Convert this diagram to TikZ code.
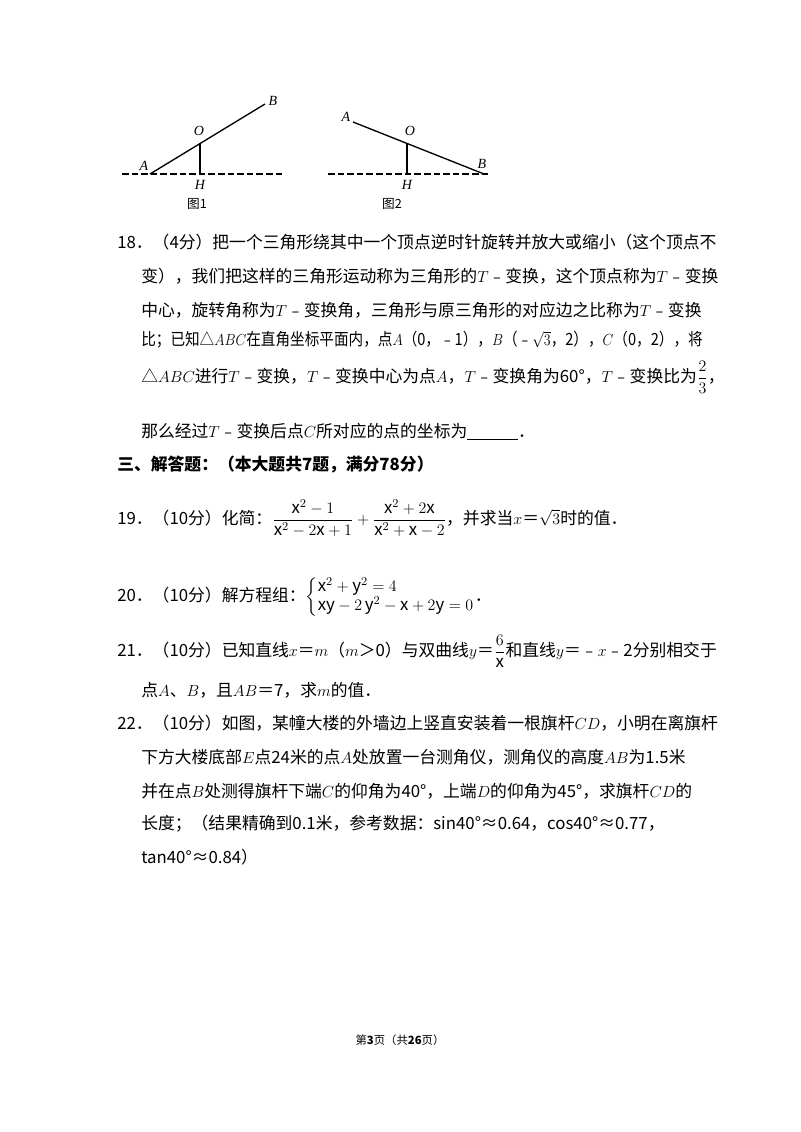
\documentclass[tikz,border=0pt]{standalone}
\usepackage{amsmath}
\usepackage{graphicx}
\usepackage{fontspec}
\setmainfont{Noto Sans CJK SC}
\newfontfamily\latinserif{Liberation Serif}
\usetikzlibrary{positioning}
\tikzset{
  line/.style={anchor=west,inner sep=0pt,font=\fontsize{12.6}{14}\selectfont},
  lbl/.style={inner sep=0pt,font=\fontsize{10.5}{12}\selectfont\itshape\latinserif},
  ground/.style={line width=2.2pt,dash pattern=on 5pt off 2.2pt},
  rod/.style={line width=1pt}
}
\begin{document}
\begin{tikzpicture}[x=0.75pt,y=-0.75pt]
\useasboundingbox (0,0) rectangle (800,1132);
% figure 1
\draw [ground] (122,174) -- (283,174);
\coordinate (A1) at (150,174);
\coordinate (O1) at (200,143);
\coordinate (B1) at (265,104);
\coordinate (H1) at (200,174);
\draw [rod] (A1) -- (B1);
\draw [rod] (O1) -- (H1);
\node[lbl] (lA1) at (144,166) {A};
\node[lbl] (lO1) at (199,131) {O};
\node[lbl] (lB1) at (273,101) {B};
\node[lbl] (lH1) at (200,185) {H};
\node[inner sep=0pt,font=\fontsize{9.5}{10}\selectfont] (cap1) at (197,204) {图1};
% figure 2
\draw [ground] (328,174) -- (488,174);
\coordinate (A2) at (353,122);
\coordinate (O2) at (407,143);
\coordinate (B2) at (484,174);
\coordinate (H2) at (407,174);
\draw [rod] (A2) -- (B2);
\draw [rod] (O2) -- (H2);
\node[lbl] (lA2) at (346,117) {A};
\node[lbl] (lO2) at (410,131) {O};
\node[lbl] (lB2) at (482,164) {B};
\node[lbl] (lH2) at (407,185) {H};
\node[inner sep=0pt,font=\fontsize{9.5}{10}\selectfont] (cap2) at (392,204) {图2};
% question 18
\node[line] (q18a) at (117,242) {18．（4分）把一个三角形绕其中一个顶点逆时针旋转并放大或缩小（这个顶点不};
\node[line] (q18b) at (141,276) {变），我们把这样的三角形运动称为三角形的$T$﹣变换，这个顶点称为$T$﹣变换};
\node[line] (q18c) at (141,310) {中心，旋转角称为$T$﹣变换角，三角形与原三角形的对应边之比称为$T$﹣变换};
\node[line] (q18d) at (141,340) {\scalebox{0.87}[1]{比；已知△$ABC$在直角坐标平面内，点$A$（0，﹣1），$B$（﹣$\sqrt{3}$，2），$C$（0，2），将}};
\node[line] (q18e) at (141,377) {△$ABC$进行$T$﹣变换，$T$﹣变换中心为点$A$，$T$﹣变换角为60°，$T$﹣变换比为$\dfrac{2}{3}$，};
\node[line] (q18f) at (141,432) {那么经过$T$﹣变换后点$C$所对应的点的坐标为\underline{\hspace{38pt}}．};
% section
\node[line,font=\fontsize{12.6}{14}\selectfont\bfseries] (sec) at (117,465) {三、解答题：（本大题共7题，满分78分）};
% question 19
\node[line] (q19) at (117,518) {19．（10分）化简：$\dfrac{\mathrm{x}^2-1}{\mathrm{x}^2-2\mathrm{x}+1}+\dfrac{\mathrm{x}^2+2\mathrm{x}}{\mathrm{x}^2+\mathrm{x}-2}$，并求当$x$＝$\sqrt{3}$时的值．};
% question 20
\node[line] (q20) at (117,597) {20．（10分）解方程组：$\left\{\begin{array}{@{}l@{}}\mathrm{x}^2+\mathrm{y}^2=4\\ \mathrm{xy}-2\,\mathrm{y}^2-\mathrm{x}+2\mathrm{y}=0\end{array}\right.$．};
% question 21
\node[line] (q21a) at (117,651) {21．（10分）已知直线$x$＝$m$（$m$＞0）与双曲线$y$＝$\dfrac{6}{\mathrm{x}}$和直线$y$＝﹣$x$﹣2分别相交于};
\node[line] (q21b) at (141,690) {点$A$、$B$，且$AB$＝7，求$m$的值．};
% question 22
\node[line] (q22a) at (117,723) {22．（10分）如图，某幢大楼的外墙边上竖直安装着一根旗杆$CD$，小明在离旗杆};
\node[line] (q22b) at (141,757) {下方大楼底部$E$点24米的点$A$处放置一台测角仪，测角仪的高度$AB$为1.5米};
\node[line] (q22c) at (141,791) {并在点$B$处测得旗杆下端$C$的仰角为40°，上端$D$的仰角为45°，求旗杆$CD$的};
\node[line] (q22d) at (141,824) {长度；（结果精确到0.1米，参考数据：sin40°≈0.64，cos40°≈0.77，};
\node[line] (q22e) at (141,857) {tan40°≈0.84）};
% footer
\node[inner sep=0pt,font=\fontsize{8.5}{10}\selectfont] (foot) at (400,1040) {第\textbf{3}页（共\textbf{26}页）};
\end{tikzpicture}
\end{document}
